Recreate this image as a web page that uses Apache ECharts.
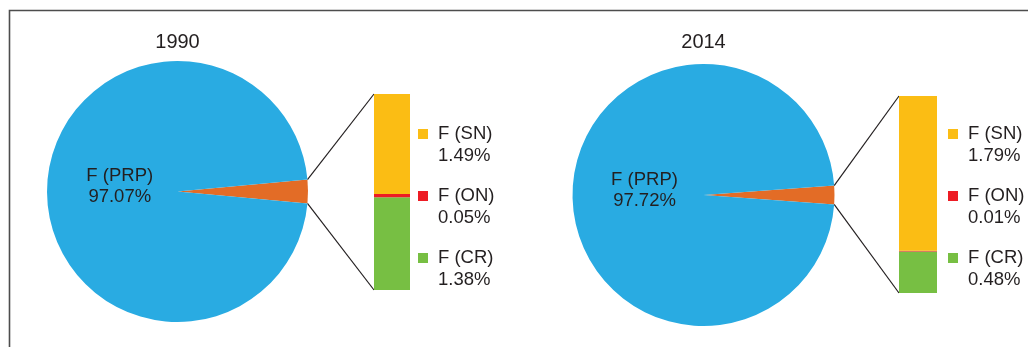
<!DOCTYPE html>
<html>
<head>
<meta charset="utf-8">
<script src="https://cdn.jsdelivr.net/npm/echarts@6/dist/echarts.min.js"></script>
<style>html,body{margin:0;padding:0;background:#fff}#main{width:1028px;height:347px}</style>
</head>
<body>
<div id="main"></div>
<script>
const years = ['1990', '2014'];
const mainPart = 'F (PRP)';
const parts = ['F (SN)', 'F (ON)', 'F (CR)'];
const prpShare = [97.07, 97.72];
const snShare = [1.49, 1.79];
const onShare = [0.05, 0.01];
const crShare = [1.38, 0.48];

const partColors = ['#fbbd14', '#ed1c24', '#77bf43'];
const pieColor = '#29abe2', restColor = '#e36c26', ink = '#231f20';
const font = '"Liberation Sans", Arial, sans-serif';

// panel layout: pie centre/radius, bar box [x, y, w, h], legend pos, label shift
const panels = [
  {cx: 177.5, cy: 191.5, r: 130.5, bar: [374, 94, 36, 196], legend: [418, 101], lab: [10.5, -5.5]},
  {cx: 703.5, cy: 195, r: 131, bar: [899, 96, 38, 197], legend: [948, 101], lab: [9.5, -5]}
];

const shares = [snShare, onShare, crShare];
const chart = echarts.init(document.getElementById('main'));

const title = [], grid = [], xAxis = [], yAxis = [], legend = [], series = [], graphic = [];

// frame
graphic.push({
  type: 'polyline', silent: true,
  shape: {points: [[9.5, 347], [9.5, 10.5], [1028, 10.5]]},
  style: {stroke: '#4d4d4d', lineWidth: 1.6, fill: null}
});

years.forEach(function (yr, i) {
  const p = panels[i];
  const rest = +(snShare[i] + onShare[i] + crShare[i]).toFixed(2);
  const half = rest / (rest + prpShare[i]) * 180;

  title.push({
    text: yr, left: p.cx, top: 32, textAlign: 'center', padding: 0,
    textStyle: {fontSize: 20, fontWeight: 'normal', color: ink, fontFamily: font}
  });

  series.push({
    type: 'pie', center: [p.cx, p.cy], radius: p.r,
    startAngle: half, clockwise: true, silent: true,
    emphasis: {disabled: true},
    label: {
      position: 'inside', formatter: '{b}\n{c}%',
      fontSize: 18.5, lineHeight: 21, color: ink, fontFamily: font
    },
    labelLayout: {dx: p.lab[0], dy: p.lab[1]},
    data: [
      {name: 'rest', value: rest, itemStyle: {color: restColor}, label: {show: false}},
      {name: mainPart, value: prpShare[i], itemStyle: {color: pieColor}}
    ]
  });

  grid.push({left: p.bar[0], top: p.bar[1], width: p.bar[2], height: p.bar[3]});
  xAxis.push({type: 'category', data: [''], show: false, gridIndex: i});
  yAxis.push({type: 'value', min: 0, max: rest, show: false, gridIndex: i});

  // stack from bottom: CR, ON, SN
  [2, 1, 0].forEach(function (j) {
    series.push({
      type: 'bar', name: yr + '|' + parts[j],
      xAxisIndex: i, yAxisIndex: i, stack: 'f' + i,
      barWidth: '100%', silent: true,
      itemStyle: {color: partColors[j]},
      data: [shares[j][i]]
    });
  });

  legend.push({
    orient: 'vertical', left: p.legend[0], top: p.legend[1], padding: 0,
    itemWidth: 10, itemHeight: 10, itemGap: -4, icon: 'rect', selectedMode: false,
    data: parts.map(function (n) { return yr + '|' + n; }),
    // blank first line so the name sits level with the square
    formatter: function (name) {
      const k = parts.indexOf(name.split('|')[1]);
      return ' \n' + parts[k] + '\n' + shares[k][i].toFixed(2) + '%';
    },
    textStyle: {fontSize: 18.5, lineHeight: 22, color: ink, fontFamily: font, padding: [0, 0, 0, 5]}
  });

  // connectors from the small slice to the bar
  const ex = p.cx + p.r * Math.cos(half * Math.PI / 180);
  const ey = p.r * Math.sin(half * Math.PI / 180);
  graphic.push({
    type: 'line', silent: true,
    shape: {x1: ex, y1: p.cy - ey, x2: p.bar[0], y2: p.bar[1]},
    style: {stroke: ink, lineWidth: 1.2}
  });
  graphic.push({
    type: 'line', silent: true,
    shape: {x1: ex, y1: p.cy + ey, x2: p.bar[0], y2: p.bar[1] + p.bar[3]},
    style: {stroke: ink, lineWidth: 1.2}
  });
});

chart.setOption({
  animation: false,
  textStyle: {fontFamily: font},
  title: title, grid: grid, xAxis: xAxis, yAxis: yAxis,
  legend: legend, series: series, graphic: graphic
});
</script>
</body>
</html>
